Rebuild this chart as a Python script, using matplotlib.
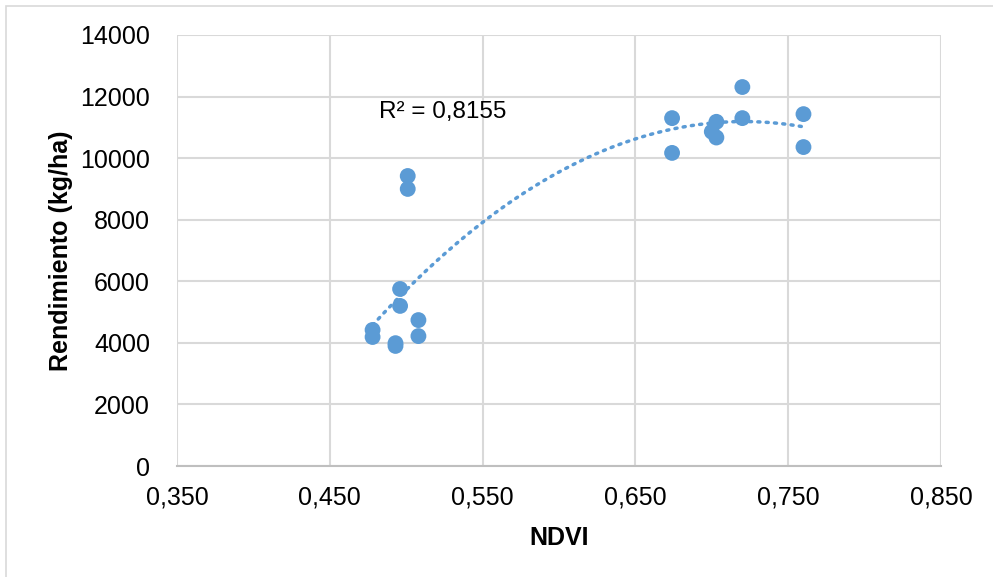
import numpy as np
import matplotlib
matplotlib.use("Agg")
import matplotlib.pyplot as plt
from matplotlib.ticker import FixedLocator, FuncFormatter
from matplotlib.patches import Rectangle

plt.rcParams['font.family'] = ['Liberation Sans', 'DejaVu Sans']

ndvi = [0.478, 0.478, 0.493, 0.493, 0.496, 0.496, 0.501, 0.501, 0.508, 0.508,
        0.674, 0.674, 0.700, 0.703, 0.703, 0.720, 0.720, 0.760, 0.760]
rendimiento = [4420, 4190, 3990, 3900, 5750, 5200, 9420, 9000, 4740, 4220,
               11300, 10170, 10860, 11180, 10670, 12310, 11300, 11430, 10360]
x_ticks = [0.35, 0.45, 0.55, 0.65, 0.75, 0.85]
y_ticks = [0, 2000, 4000, 6000, 8000, 10000, 12000, 14000]
r2_label = "R² = 0,8155"

blue = '#5b9bd5'
grid = '#d9d9d9'

fig = plt.figure(figsize=(9.93, 5.77), dpi=100)
fig.patches.append(Rectangle((6/993, -0.01), 1.0, 1 - 6/577 + 0.01, transform=fig.transFigure,
                             fill=False, edgecolor='#d9d9d9', linewidth=1.2))
ax = fig.add_axes([177/993, 1 - 466/577, (941-177)/993, (466-35)/577])

ax.set_xlim(0.35, 0.85)
ax.set_ylim(0, 14000)
ax.xaxis.set_major_locator(FixedLocator(x_ticks))
ax.yaxis.set_major_locator(FixedLocator(y_ticks))
ax.xaxis.set_major_formatter(FuncFormatter(lambda v, p: f"{v:.3f}".replace('.', ',')))
ax.yaxis.set_major_formatter(FuncFormatter(lambda v, p: f"{int(round(v))}"))
ax.grid(True, color=grid, linewidth=1.5)
ax.set_axisbelow(True)
for s in ['top', 'right', 'left']:
    ax.spines[s].set_visible(False)
ax.spines['bottom'].set_color('#bfbfbf')
ax.spines['bottom'].set_linewidth(1.5)
ax.tick_params(axis='both', length=0, labelsize=18, colors='#000000')
ax.tick_params(axis='y', pad=19.5)
ax.tick_params(axis='x', pad=14)

# Polynomial (order 2) trendline
coef = np.polyfit(ndvi, rendimiento, 2)
xs = np.linspace(min(ndvi), max(ndvi), 200)
ax.plot(xs, np.polyval(coef, xs), color=blue, linewidth=2.5, linestyle=(0, (0.6, 1.8)),
        dash_capstyle='round', zorder=2)

ax.scatter(ndvi, rendimiento, s=130, color=blue, edgecolors='none', zorder=3)

ax.text(0.4825, 11500, r2_label, fontsize=17.5, va='center', ha='left')

ax.set_ylabel("Rendimiento (kg/ha)", fontsize=18, fontweight='bold', labelpad=5)
ax.set_xlabel("NDVI", fontsize=18, fontweight='bold', labelpad=12)

fig.savefig("out.png", dpi=100)
